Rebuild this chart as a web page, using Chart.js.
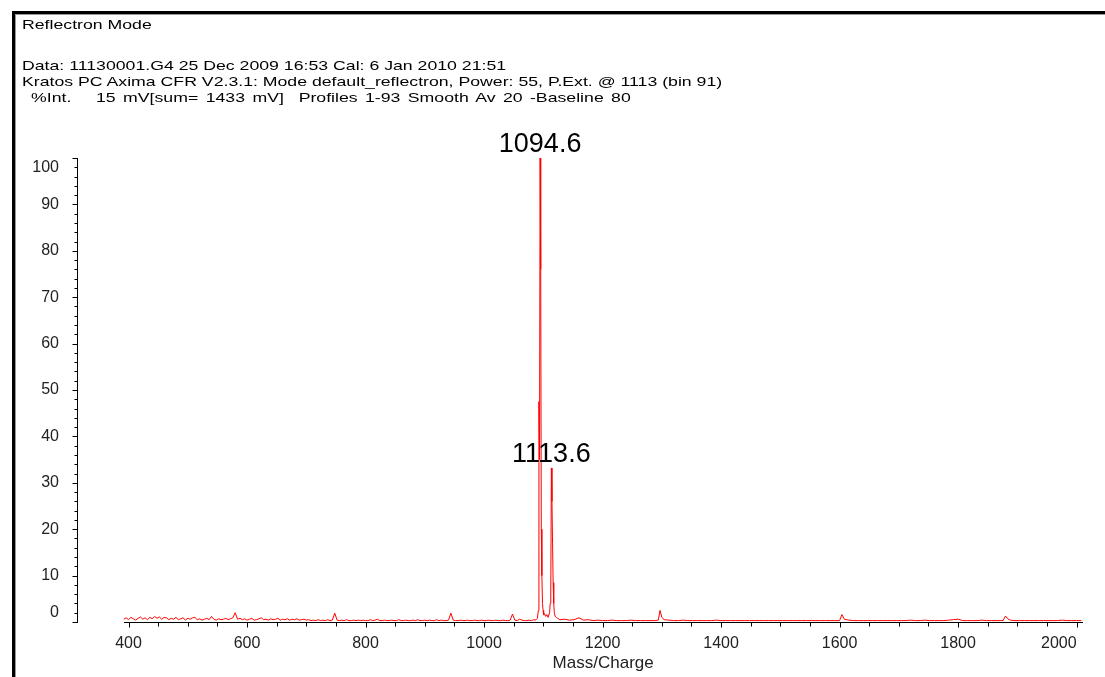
<!DOCTYPE html>
<html>
<head>
<meta charset="utf-8">
<title>Reflectron Mode</title>
<script src="https://cdn.jsdelivr.net/npm/chart.js@4.4.1/dist/chart.umd.min.js"></script>
<style>
  html, body { margin: 0; padding: 0; background: #fff; }
  #wrap { position: relative; width: 1105px; height: 677px; overflow: hidden; }
  #spec { position: absolute; left: 0; top: 0; }
  #frame {
    position: absolute; left: 12px; top: 11px; right: -10px; bottom: -10px;
    border-left: 3px solid #000; border-top: 3px solid #000;
    box-shadow: inset 1px 1px 0 #9a9a9a;
  }
  .hdr {
    position: absolute; font-family: "Liberation Sans", Arial, sans-serif;
    font-size: 13.5px; line-height: 16px; color: #000; white-space: pre;
    transform: scaleX(1.31); transform-origin: 0 0;
  }
  .wide { word-spacing: 1.9px; }
</style>
</head>
<body>
<div id="wrap">
  <canvas id="spec" width="1105" height="677"></canvas>
  <div id="frame"></div>
  <div class="hdr" style="left:22px;top:17px">Reflectron Mode</div>
  <div class="hdr" style="left:22px;top:58px">Data: 11130001.G4 25 Dec 2009 16:53 Cal: 6 Jan 2010 21:51</div>
  <div class="hdr" style="left:22px;top:74px">Kratos PC Axima CFR V2.3.1: Mode default_reflectron, Power: 55, P.Ext. @ 1113 (bin 91)</div>
  <div class="hdr" style="left:31px;top:90px">%Int.</div>
  <div class="hdr wide" style="left:96px;top:90px">15 mV[sum= 1433 mV]  Profiles 1-93 Smooth Av 20 -Baseline 80</div>
</div>
<script>
// Low-mass baseline region (m/z) and relative intensity (%)
const lowMz = [
  392, 396, 400, 404, 408, 412, 416, 420, 424, 428,
  432, 436, 440, 444, 448, 452, 456, 460, 464, 468,
  472, 476, 480, 484, 488, 492, 496, 500, 504, 508,
  512, 516, 520, 524, 528, 532, 536, 540, 544, 548,
  552, 556, 560, 564, 568, 572, 576, 580, 584, 588,
  592, 596, 600, 604, 608, 612, 616, 620, 624, 628,
  632, 636, 640, 644, 648, 652, 656, 660, 664, 668,
  672, 676, 680, 684, 688, 692, 696, 700, 704, 708,
  712, 716, 720, 724, 728, 732, 736, 740, 744, 748,
  752, 756, 760, 764, 768, 772, 776, 780, 784, 788,
  792, 796, 800, 804, 808, 812, 816, 820, 824, 828,
  832, 836, 840, 844, 848, 852, 856, 860, 864, 868,
  872, 876, 880, 884, 888, 892, 896, 900, 904, 908,
  912, 916, 920, 924, 928, 932, 936, 940, 944, 948,
  952, 956, 960, 964, 968, 972, 976, 980, 984, 988,
  992, 996, 1000, 1004, 1008, 1012, 1016, 1020, 1024, 1028,
  1032, 1036, 1040, 1044, 1048, 1052, 1056, 1060, 1064, 1068,
  1072, 1076, 1080, 1084
];
const lowInt = [
  0.6, 0.9, 0.5, 1.0, 0.7, 0.4, 0.8, 1.1, 0.6, 0.9,
  0.5, 1.0, 0.7, 1.2, 0.8, 1.1, 0.6, 1.0, 0.9, 0.5,
  0.8, 0.6, 1.0, 0.5, 0.7, 0.9, 0.4, 0.8, 0.6, 0.9,
  1.0, 0.5, 0.7, 0.4, 0.6, 0.8, 0.5, 1.2, 0.6, 0.4,
  0.7, 0.5, 0.6, 0.8, 0.5, 0.7, 0.9, 2.0, 0.6, 0.8,
  0.5, 0.7, 0.4, 0.6, 0.8, 0.4, 0.5, 0.7, 0.9, 0.5,
  0.6, 0.4, 0.7, 0.5, 0.6, 0.8, 0.4, 0.6, 0.5, 0.7,
  0.4, 0.6, 0.5, 0.7, 0.4, 0.5, 0.6, 0.4, 0.5, 0.3,
  0.4, 0.3, 0.5, 0.3, 0.4, 0.3, 0.5, 0.3, 0.4, 1.9,
  0.4, 0.3, 0.4, 0.3, 0.5, 0.3, 0.3, 0.4, 0.3, 0.4,
  0.3, 0.4, 0.3, 0.3, 0.5, 0.3, 0.4, 0.6, 0.3, 0.3,
  0.4, 0.3, 0.3, 0.4, 0.3, 0.3, 0.5, 0.3, 0.3, 0.4,
  0.3, 0.3, 0.4, 0.3, 0.5, 0.3, 0.3, 0.4, 0.3, 0.4,
  0.3, 0.3, 0.5, 0.3, 0.4, 0.3, 0.3, 0.4, 1.9, 0.4,
  0.3, 0.3, 0.4, 0.3, 0.3, 0.4, 0.3, 0.3, 0.4, 0.3,
  0.3, 0.4, 0.3, 0.3, 0.4, 0.3, 0.3, 0.4, 0.3, 0.3,
  0.4, 0.3, 0.3, 0.4, 1.7, 0.4, 0.3, 0.6, 0.4, 0.3,
  0.3, 0.4, 0.3, 0.5
];

// Molecular ion cluster around 1094.6 and 1113.6
const peakMz = [
  1086, 1088, 1090, 1091.6, 1092.6, 1093.6, 1094.6, 1095.6, 1096.6, 1097.6,
  1098.6, 1099.6, 1100.6, 1102, 1104, 1106, 1108, 1110.6, 1111.6, 1112.6,
  1113.6, 1114.6, 1115.6, 1116.6, 1117.6, 1118.6, 1120, 1122, 1124
];
const peakInt = [
  0.4, 0.5, 0.8, 2.5, 47.5, 35.0, 100.0, 76.0, 20.0, 10.0,
  4.0, 2.5, 1.5, 1.8, 1.2, 1.6, 1.0, 2.0, 4.0, 6.0,
  33.2, 26.0, 17.0, 8.5, 4.0, 2.0, 1.2, 1.0, 0.8
];

// High-mass baseline region
const highMz = [
  1128, 1136, 1144, 1152, 1160, 1168, 1176, 1184, 1192, 1200,
  1208, 1216, 1224, 1232, 1240, 1248, 1256, 1264, 1272, 1280,
  1288, 1294, 1297, 1300, 1304, 1312, 1320, 1328, 1336, 1344,
  1352, 1360, 1368, 1376, 1384, 1392, 1400, 1408, 1416, 1424,
  1432, 1440, 1448, 1456, 1464, 1472, 1480, 1488, 1496, 1504,
  1512, 1520, 1528, 1536, 1544, 1552, 1560, 1568, 1576, 1584,
  1592, 1600, 1604, 1608, 1616, 1624, 1632, 1640, 1648, 1656,
  1664, 1672, 1680, 1688, 1696, 1704, 1712, 1720, 1728, 1736,
  1744, 1752, 1760, 1768, 1776, 1784, 1792, 1800, 1808, 1816,
  1824, 1832, 1840, 1848, 1856, 1864, 1872, 1876, 1880, 1884,
  1888, 1896, 1904, 1912, 1920, 1928, 1936, 1944, 1952, 1960,
  1968, 1976, 1984, 1992, 2000, 2008
];
const highInt = [
  0.5, 0.6, 0.4, 0.5, 0.9, 0.4, 0.5, 0.3, 0.4, 0.3,
  0.3, 0.4, 0.3, 0.3, 0.3, 0.4, 0.3, 0.3, 0.3, 0.3,
  0.3, 0.4, 2.5, 1.0, 0.5, 0.4, 0.3, 0.3, 0.4, 0.3,
  0.3, 0.3, 0.3, 0.3, 0.3, 0.4, 0.3, 0.3, 0.3, 0.3,
  0.3, 0.3, 0.3, 0.3, 0.3, 0.3, 0.3, 0.3, 0.3, 0.3,
  0.3, 0.3, 0.3, 0.3, 0.3, 0.3, 0.3, 0.3, 0.3, 0.3,
  0.3, 0.3, 1.6, 0.6, 0.4, 0.3, 0.3, 0.3, 0.3, 0.3,
  0.3, 0.3, 0.3, 0.3, 0.3, 0.3, 0.3, 0.4, 0.3, 0.3,
  0.4, 0.3, 0.3, 0.3, 0.3, 0.4, 0.5, 0.6, 0.3, 0.3,
  0.3, 0.3, 0.4, 0.3, 0.3, 0.3, 0.3, 0.3, 1.3, 0.7,
  0.4, 0.3, 0.3, 0.3, 0.3, 0.3, 0.3, 0.3, 0.3, 0.3,
  0.3, 0.4, 0.3, 0.3, 0.3, 0.3
];

// Annotated peaks (m/z)
const labelledPeaks = [1094.6, 1113.6];

// Axis ticks
const xMajorTicks = [400, 600, 800, 1000, 1200, 1400, 1600, 1800, 2000];
const xMinorStep = 50;
const yMajorTicks = [0, 10, 20, 30, 40, 50, 60, 70, 80, 90, 100];
const yMinorStep = 2;
const axisStartMz = 392;

const mz = lowMz.concat(peakMz, highMz);
const relInt = lowInt.concat(peakInt, highInt);
const points = mz.map((m, i) => ({ x: m, y: relInt[i] }));

const FONT = '"Liberation Sans", Arial, sans-serif';

function rangeTicks(first, last, step) {
  const out = [];
  for (let v = first; v <= last + 1e-9; v += step) out.push(Math.round(v * 100) / 100);
  return out;
}

// Axis line and tick marks in the spectrometer style
const axisMarks = {
  id: 'axisMarks',
  beforeDatasetsDraw(chart) {
    const { ctx } = chart;
    const xs = chart.scales.x, ys = chart.scales.y;
    const y0 = Math.round(ys.getPixelForValue(0)) + 0.5;
    const xStart = Math.round(xs.getPixelForValue(axisStartMz));
    const xEnd = Math.round(chart.chartArea.right);
    const yAxisX = Math.round(chart.chartArea.left) + 0.5;
    ctx.save();
    ctx.strokeStyle = '#000';
    ctx.lineWidth = 1;
    ctx.beginPath();
    ctx.moveTo(xStart, y0);
    ctx.lineTo(xEnd, y0);
    rangeTicks(xMajorTicks[0], xMajorTicks[xMajorTicks.length - 1], xMinorStep).forEach(v => {
      const px = Math.round(xs.getPixelForValue(v)) + 0.5;
      const len = xMajorTicks.includes(v) ? 5 : 4;
      ctx.moveTo(px, y0);
      ctx.lineTo(px, y0 + len);
    });
    rangeTicks(yMajorTicks[0], yMajorTicks[yMajorTicks.length - 1], yMinorStep).forEach(v => {
      const py = Math.round(ys.getPixelForValue(v)) + 0.5;
      const len = yMajorTicks.includes(v) ? 5 : 3;
      ctx.moveTo(yAxisX, py);
      ctx.lineTo(yAxisX - len, py);
    });
    ctx.stroke();
    ctx.restore();
  },
  afterDatasetsDraw(chart) {
    const { ctx } = chart;
    const meta = chart.getDatasetMeta(0);
    ctx.save();
    ctx.fillStyle = '#000';
    ctx.font = '27px ' + FONT;
    ctx.textAlign = 'center';
    ctx.textBaseline = 'alphabetic';
    labelledPeaks.forEach(m => {
      const el = meta.data[mz.indexOf(m)];
      ctx.fillText(m.toFixed(1), el.x, el.y - 6);
    });
    // axis title, centred on the drawn mass axis
    const xs = chart.scales.x;
    const cx = (xs.getPixelForValue(axisStartMz) + chart.chartArea.right) / 2;
    ctx.fillStyle = '#222';
    ctx.font = '17px ' + FONT;
    ctx.textBaseline = 'middle';
    ctx.fillText('Mass/Charge', cx, xs.top + 41);
    ctx.restore();
  }
};

new Chart(document.getElementById('spec'), {
  type: 'line',
  data: {
    datasets: [{
      data: points,
      borderColor: '#ff0000',
      borderWidth: 1,
      pointRadius: 0,
      tension: 0,
      fill: false,
      clip: 6
    }]
  },
  options: {
    responsive: false,
    animation: false,
    devicePixelRatio: 1,
    layout: { padding: { top: 158, right: 22.5, bottom: 0, left: 0 } },
    plugins: { legend: { display: false }, tooltip: { enabled: false } },
    scales: {
      x: {
        type: 'linear',
        bounds: 'data',
        min: 313,
        max: 2010,
        grid: { display: false },
        border: { display: false },
        afterBuildTicks(scale) {
          scale.ticks = [axisStartMz].concat(
            rangeTicks(xMajorTicks[0], xMajorTicks[xMajorTicks.length - 1], xMinorStep)
          ).map(v => ({ value: v }));
        },
        afterFit(scale) { scale.height = 55; },
        ticks: {
          autoSkip: false,
          maxRotation: 0,
          minRotation: 0,
          align: 'inner',
          padding: 4,
          color: '#222',
          font: { family: FONT, size: 16 },
          callback: v => (xMajorTicks.includes(v) ? String(v) : '')
        }
      },
      y: {
        type: 'linear',
        bounds: 'data',
        min: 0,
        max: 100,
        grid: { display: false },
        border: { display: true, color: '#000', width: 1 },
        afterBuildTicks(scale) {
          scale.ticks = rangeTicks(yMajorTicks[0], yMajorTicks[yMajorTicks.length - 1], yMinorStep)
            .map(v => ({ value: v }));
        },
        afterFit(scale) { scale.width = 77; },
        ticks: {
          autoSkip: false,
          padding: 10,
          color: '#222',
          font: { family: FONT, size: 16 },
          callback: v => {
            if (!yMajorTicks.includes(v)) return '';
            if (v === yMajorTicks[0]) return [String(v), ''];
            if (v === yMajorTicks[yMajorTicks.length - 1]) return ['', String(v)];
            return String(v);
          }
        }
      }
    }
  },
  plugins: [axisMarks]
});
</script>
</body>
</html>
